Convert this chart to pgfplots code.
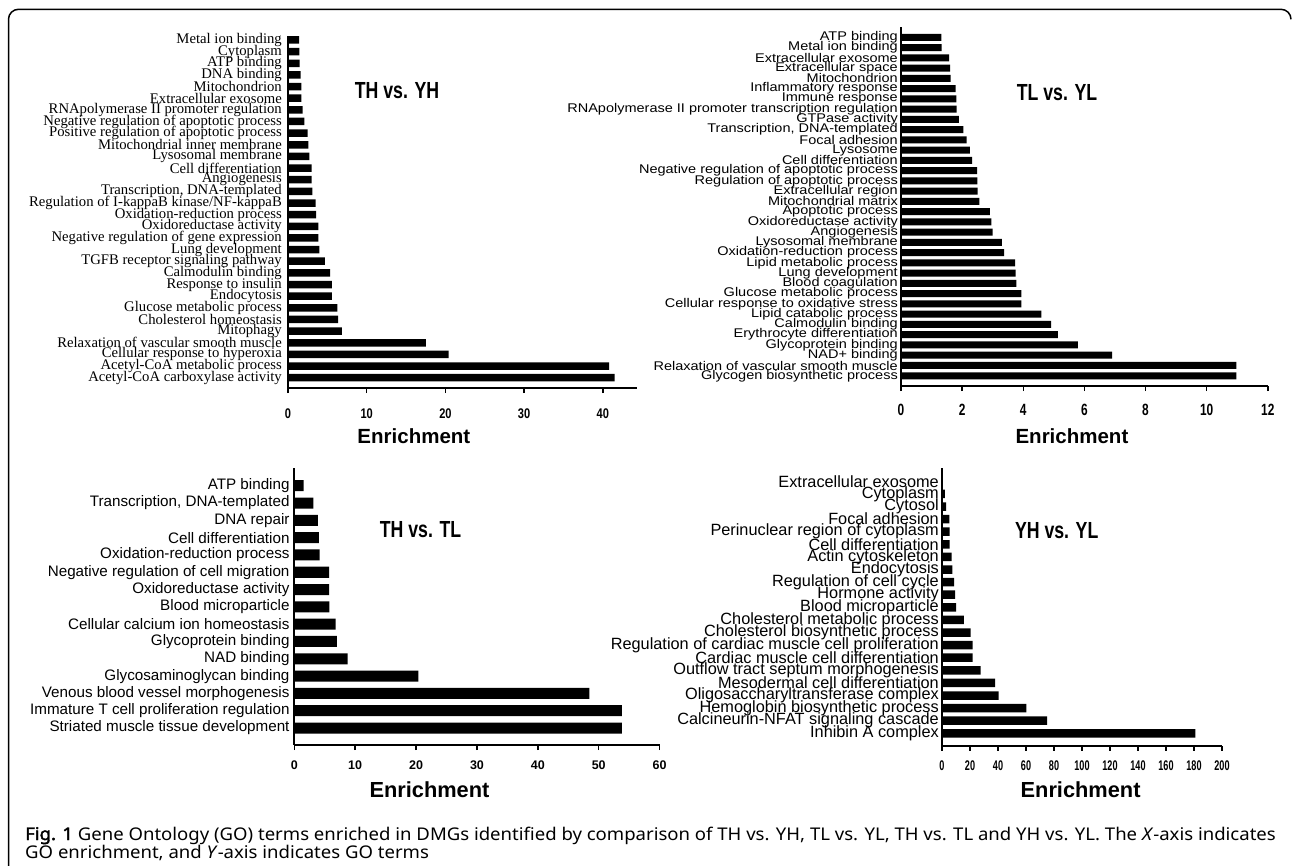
\documentclass[border=0pt]{standalone}
\usepackage{fontspec}
\setmainfont{Liberation Serif}
\usepackage{graphicx}
\usepackage{pgfplots}
\pgfplotsset{compat=1.18}
\newfontfamily\arial{Liberation Sans}
\newfontfamily\condT[FakeStretch=0.76]{Liberation Sans}
\newfontfamily\condP[FakeStretch=0.79]{Liberation Sans}
\newfontfamily\condQ[FakeStretch=0.73]{Liberation Sans}
\newfontfamily\condR[FakeStretch=0.65]{Liberation Sans}
\newfontfamily\capfont[FakeStretch=1.06]{Noto Sans}
\newfontfamily\capbold[FakeStretch=1.06,FakeBold=2.2]{Noto Sans}
\newcommand{\fs}[1]{\fontsize{#1bp}{#1bp}\selectfont}
\newcommand{\sq}[1]{\scalebox{1}[0.87]{#1}}

\pgfplotsset{
 gostyle/.style={
   scale only axis, xbar, axis lines*=left,
   axis line style={line width=1.8bp, black},
   xtick align=outside, ytick align=inside,
   major tick length=5bp,
   xtick style={line width=1.5bp, black},
   ytick style={draw=none},
   xmin=0, enlarge x limits=false, enlarge y limits=false,
   /pgf/number format/assume math mode=true,
   clip=false,
   yticklabel style={anchor=east, inner sep=0pt},
   xticklabel style={anchor=center, inner sep=0pt},
   xlabel style={anchor=center, inner sep=0pt},
   title style={anchor=center, inner sep=0pt, yshift=0pt},
 }
}

\begin{document}
\begin{tikzpicture}[x=1bp,y=1bp]
\path[use as bounding box] (0,0) rectangle (1292,-866);
\draw[line width=1.5bp] (8.5,-870) -- (8.5,-19.3) arc[start angle=180, end angle=90, radius=10] -- (1281,-9.3) arc[start angle=90, end angle=0, radius=10];

% Panel 1: TH vs. YH
\begin{axis}[gostyle, at={(288bp,-388bp)}, anchor=south west,
  width=348.7bp, height=352bp, xmax=44.3, ymin=0.115, ymax=30.34,
  xtick={0,10,...,40}, ytick={1,...,30},
  yticklabels={{Acetyl-CoA carboxylase activity},{Acetyl-CoA metabolic process},{Cellular response to hyperoxia},{Relaxation of vascular smooth muscle},{Mitophagy},{Cholesterol homeostasis},{Glucose metabolic process},{Endocytosis},{Response to insulin},{Calmodulin binding},{TGFB receptor signaling pathway},{Lung development},{Negative regulation of gene expression},{Oxidoreductase activity},{Oxidation-reduction process},{Regulation of I-kappaB kinase/NF-kappaB},{Transcription, DNA-templated},{Angiogenesis},{Cell differentiation},{Lysosomal membrane},{Mitochondrial inner membrane},{Positive regulation of apoptotic process},{Negative regulation of apoptotic process},{RNApolymerase II promoter regulation},{Extracellular exosome},{Mitochondrion},{DNA binding},{ATP binding},{Cytoplasm},{Metal ion binding}},
  yticklabel style={font=\fs{14.7}, xshift=-6bp},
  xticklabel style={font=\condP\bfseries\fs{14}, yshift=-20.7bp},
  xlabel={Enrichment},
  xlabel style={font=\arial\bfseries\fs{20.5}, at={(axis description cs:0.361,0)}, yshift=-48bp},
  title={TH vs. YH},
  title style={font=\condT\bfseries\fs{23.3}, at={(axis description cs:0.3126,0.8267)}}]
\addplot[fill=black, draw=none, bar width=7.5bp] coordinates {
(41.5,1) (40.8,2) (20.4,3) (17.5,4) (6.83,5) (6.36,6) (6.28,7) (5.56,8) (5.56,9) (5.35,10)
(4.67,11) (3.99,12) (3.86,13) (3.86,14) (3.56,15) (3.52,16) (3.10,17) (3.01,18) (3.01,19) (2.72,20)
(2.59,21) (2.50,22) (2.08,23) (1.87,24) (1.70,25) (1.70,26) (1.61,27) (1.48,28) (1.44,29) (1.40,30)};
\end{axis}

% Panel 2: TL vs. YL
\begin{axis}[gostyle, at={(901bp,-386bp)}, anchor=south west,
  width=366.8bp, height=359.3bp, xmax=12, ymin=0, ymax=35.03,
  xtick={0,2,...,12}, ytick={1,...,34},
  yticklabels={\sq{Glycogen biosynthetic process},\sq{Relaxation of vascular smooth muscle},\sq{NAD+ binding},\sq{Glycoprotein binding},\sq{Erythrocyte differentiation},\sq{Calmodulin binding},\sq{Lipid catabolic process},\sq{Cellular response to oxidative stress},\sq{Glucose metabolic process},\sq{Blood coagulation},\sq{Lung development},\sq{Lipid metabolic process},\sq{Oxidation-reduction process},\sq{Lysosomal membrane},\sq{Angiogenesis},\sq{Oxidoreductase activity},\sq{Apoptotic process},\sq{Mitochondrial matrix},\sq{Extracellular region},\sq{Regulation of apoptotic process},\sq{Negative regulation of apoptotic process},\sq{Cell differentiation},\sq{Lysosome},\sq{Focal adhesion},\sq{Transcription, DNA-templated},\sq{GTPase activity},\sq{RNApolymerase II promoter transcription regulation},\sq{Immune response},\sq{Inflammatory response},\sq{Mitochondrion},\sq{Extracellular space},\sq{Extracellular exosome},\sq{Metal ion binding},\sq{ATP binding}},
  yticklabel style={font=\arial\fs{14.5}, xshift=-3bp},
  xticklabel style={font=\condQ\bfseries\fs{16.3}, yshift=-19bp},
  xlabel={Enrichment},
  xlabel style={font=\arial\bfseries\fs{20.5}, at={(axis description cs:0.466,0)}, yshift=-50bp},
  title={TL vs. YL},
  title style={font=\condT\bfseries\fs{23.3}, at={(axis description cs:0.4253,0.8007)}}]
\addplot[fill=black, draw=none, bar width=7bp] coordinates {
(10.97,1) (10.97,2) (6.91,3) (5.79,4) (5.13,5) (4.91,6) (4.59,7) (3.94,8) (3.94,9) (3.77,10)
(3.75,11) (3.73,12) (3.37,13) (3.30,14) (3.00,15) (2.96,16) (2.91,17) (2.56,18) (2.51,19) (2.50,20)
(2.49,21) (2.33,22) (2.25,23) (2.15,24) (2.04,25) (1.89,26) (1.82,27) (1.81,28) (1.79,29) (1.62,30)
(1.61,31) (1.57,32) (1.33,33) (1.32,34)};
\end{axis}

% Panel 3: TH vs. TL
\begin{axis}[gostyle, at={(294.3bp,-745bp)}, anchor=south west,
  width=365.3bp, height=277.3bp, xmax=60, ymin=0.018, ymax=16.04,
  xtick={0,10,...,60}, ytick={1,...,15},
  yticklabels={{Striated muscle tissue development},{Immature T cell proliferation regulation},{Venous blood vessel morphogenesis},{Glycosaminoglycan binding},{NAD binding},{Glycoprotein binding},{Cellular calcium ion homeostasis},{Blood microparticle},{Oxidoreductase activity},{Negative regulation of cell migration},{Oxidation-reduction process},{Cell differentiation},{DNA repair},{Transcription, DNA-templated},{ATP binding}},
  yticklabel style={font=\arial\fs{15.2}, xshift=-4.6bp},
  xticklabel style={font=\arial\bfseries\fs{12.5}, yshift=-14.8bp},
  xlabel={Enrichment},
  xlabel style={font=\arial\bfseries\fs{21.8}, at={(axis description cs:0.37,0)}, yshift=-45bp},
  title={TH vs. TL},
  title style={font=\condT\bfseries\fs{23.3}, at={(axis description cs:0.3455,0.7537)}}]
\addplot[fill=black, draw=none, bar width=11bp] coordinates {
(53.8,1) (53.8,2) (48.47,3) (20.37,4) (8.76,5) (7.01,6) (6.79,7) (5.75,8) (5.70,9) (5.70,10)
(4.16,11) (4.05,12) (3.89,13) (3.12,14) (1.53,15)};
\end{axis}

% Panel 4: YH vs. YL
\begin{axis}[gostyle, at={(942bp,-745.7bp)}, anchor=south west,
  width=280bp, height=278bp, xmax=200, ymin=0.016, ymax=22.08,
  xtick={0,20,...,200}, ytick={1,...,21},
  yticklabels={{Inhibin A complex},{Calcineurin-NFAT signaling cascade},{Hemoglobin biosynthetic process},{Oligosaccharyltransferase complex},{Mesodermal cell differentiation},{Outflow tract septum morphogenesis},{Cardiac muscle cell differentiation},{Regulation of cardiac muscle cell proliferation},{Cholesterol biosynthetic process},{Cholesterol metabolic process},{Blood microparticle},{Hormone activity},{Regulation of cell cycle},{Endocytosis},{Actin cytoskeleton},{Cell differentiation},{Perinuclear region of cytoplasm},{Focal adhesion},{Cytosol},{Cytoplasm},{Extracellular exosome}},
  yticklabel style={font=\arial\fs{16.3}, xshift=-3bp},
  xticklabel style={font=\condR\bfseries\fs{14}, yshift=-14.6bp},
  xlabel={Enrichment},
  xlabel style={font=\arial\bfseries\fs{21.8}, at={(axis description cs:0.495,0)}, yshift=-44.3bp},
  title={YH vs. YL},
  title style={font=\condT\bfseries\fs{23.3}, at={(axis description cs:0.4096,0.7518)}}]
\addplot[fill=black, draw=none, bar width=8.5bp] coordinates {
(181.0,1) (75.0,2) (60.2,3) (40.5,4) (37.9,5) (27.6,6) (21.9,7) (21.9,8) (20.5,9) (15.7,10)
(10.0,11) (9.3,12) (8.6,13) (7.4,14) (6.9,15) (5.5,16) (5.5,17) (5.2,18) (2.9,19) (2.1,20) (0.5,21)};
\end{axis}

\node[anchor=base west, inner sep=0pt] at (25,-840) {\capfont\fs{17.5}{\capbold Fig. 1} Gene Ontology (GO) terms enriched in DMGs identified by comparison of TH vs. YH, TL vs. YL, TH vs. TL and YH vs. YL. The \textit{X}-axis indicates};
\node[anchor=base west, inner sep=0pt] at (25,-858.5) {\capfont\fs{17.5}GO enrichment, and \textit{Y}-axis indicates GO terms};
\end{tikzpicture}
\end{document}
